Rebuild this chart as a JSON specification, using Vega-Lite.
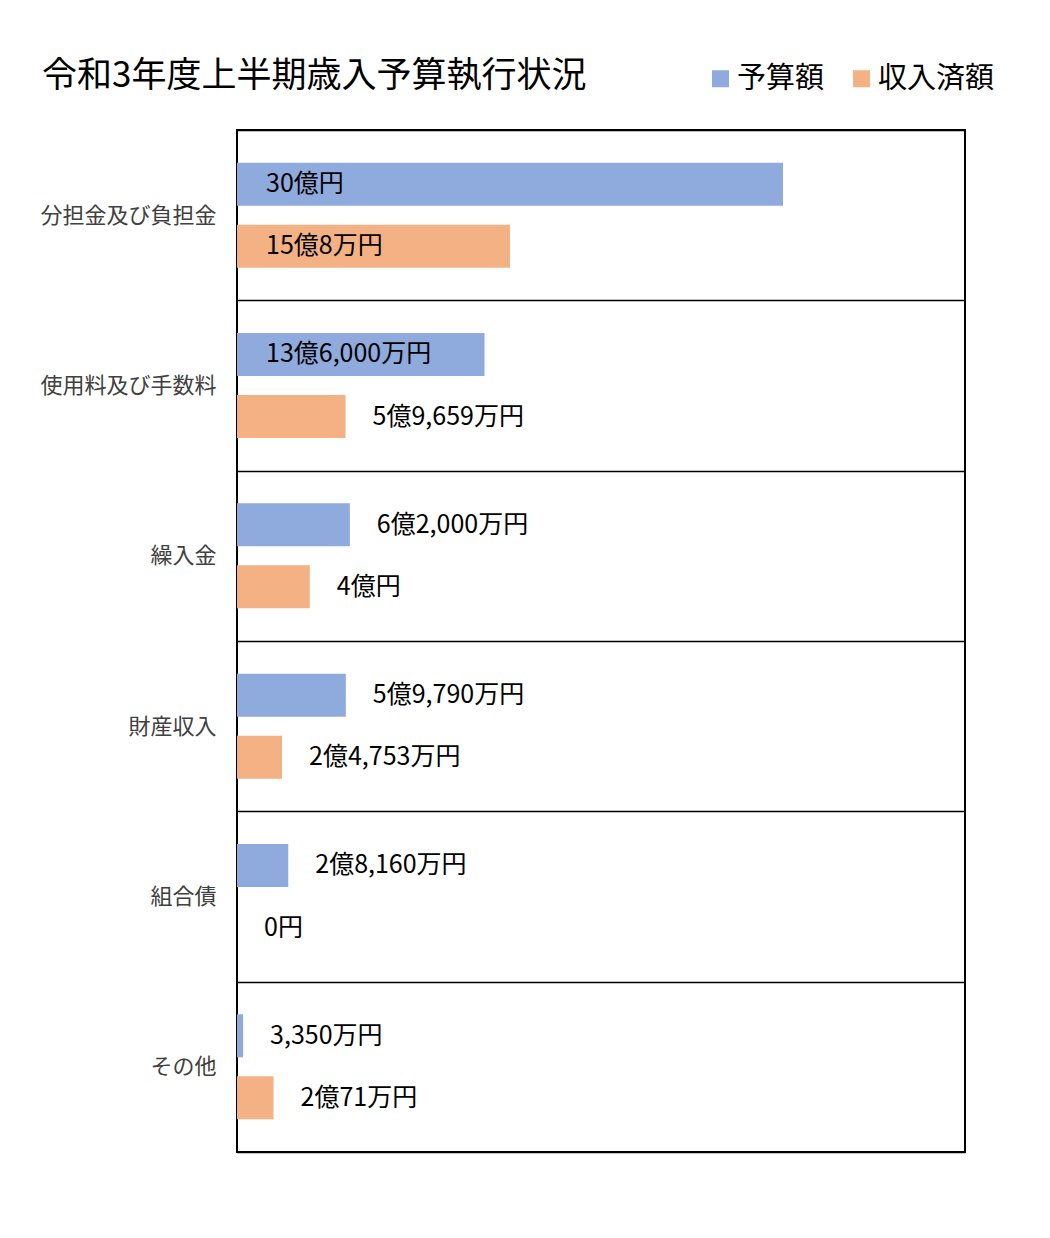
{
  "$schema": "https://vega.github.io/schema/vega-lite/v6.json",
  "autosize": {"type": "none"},
  "width": 728,
  "height": 1022,
  "padding": {"left": 237, "top": 130, "right": 85, "bottom": 86},
  "background": "white",
  "title": {
    "text": "令和3年度上半期歳入予算執行状況",
    "anchor": "start",
    "frame": "group",
    "dx": -195,
    "offset": -65,
    "baseline": "bottom",
    "font": "Noto Sans CJK JP",
    "fontSize": 35,
    "fontWeight": "normal",
    "color": "#000000"
  },
  "config": {
    "view": {"stroke": "#000000", "strokeWidth": 2},
    "font": "Noto Sans CJK JP"
  },
  "data": {
    "values": [
      {"category": "分担金及び負担金", "series": "予算額", "value": 3000000000, "label": "30億円"},
      {"category": "分担金及び負担金", "series": "収入済額", "value": 1500080000, "label": "15億8万円"},
      {"category": "使用料及び手数料", "series": "予算額", "value": 1360000000, "label": "13億6,000万円"},
      {"category": "使用料及び手数料", "series": "収入済額", "value": 596590000, "label": "5億9,659万円"},
      {"category": "繰入金", "series": "予算額", "value": 620000000, "label": "6億2,000万円"},
      {"category": "繰入金", "series": "収入済額", "value": 400000000, "label": "4億円"},
      {"category": "財産収入", "series": "予算額", "value": 597900000, "label": "5億9,790万円"},
      {"category": "財産収入", "series": "収入済額", "value": 247530000, "label": "2億4,753万円"},
      {"category": "組合債", "series": "予算額", "value": 281600000, "label": "2億8,160万円"},
      {"category": "組合債", "series": "収入済額", "value": 0, "label": "0円"},
      {"category": "その他", "series": "予算額", "value": 33500000, "label": "3,350万円"},
      {"category": "その他", "series": "収入済額", "value": 200710000, "label": "2億71万円"}
    ]
  },
  "encoding": {
    "y": {
      "field": "category",
      "type": "nominal",
      "sort": ["分担金及び負担金", "使用料及び手数料", "繰入金", "財産収入", "組合債", "その他"],
      "scale": {"paddingInner": 0, "paddingOuter": 0},
      "axis": {
        "title": null,
        "ticks": false,
        "domain": false,
        "grid": true,
        "gridColor": "#000000",
        "gridWidth": 1.5,
        "gridOpacity": 1,
        "tickBand": "extent",
        "labelFontSize": 22,
        "labelColor": "#404040",
        "labelFont": "Noto Sans CJK JP",
        "labelPadding": 21
      }
    },
    "yOffset": {
      "field": "series",
      "type": "nominal",
      "scale": {"domain": ["予算額", "収入済額"], "paddingInner": 0.306, "paddingOuter": 0.526}
    }
  },
  "layer": [
    {
      "mark": {"type": "bar"},
      "encoding": {
        "x": {"field": "value", "type": "quantitative", "scale": {"domain": [0, 4000000000], "nice": false}, "axis": null},
        "color": {
          "field": "series",
          "type": "nominal",
          "scale": {"domain": ["予算額", "収入済額"], "range": ["#8FAADC", "#F4B183"]},
          "legend": {
            "title": null,
            "orient": "none",
            "legendX": 469,
            "legendY": -66,
            "direction": "horizontal",
            "symbolType": "square",
            "symbolSize": 289,
            "symbolStrokeWidth": 0,
            "labelFontSize": 29,
            "labelFont": "Noto Sans CJK JP",
            "labelColor": "#000000",
            "labelOffset": 2,
            "columnPadding": 22
          }
        }
      }
    },
    {
      "transform": [{"filter": "datum.value >= 1000000000"}],
      "mark": {"type": "text", "align": "left", "baseline": "middle", "dx": 29, "fontSize": 25, "font": "Noto Sans CJK JP", "color": "#000000"},
      "encoding": {
        "x": {"datum": 0, "type": "quantitative"},
        "text": {"field": "label"}
      }
    },
    {
      "transform": [{"filter": "datum.value < 1000000000"}],
      "mark": {"type": "text", "align": "left", "baseline": "middle", "dx": 27, "fontSize": 25, "font": "Noto Sans CJK JP", "color": "#000000"},
      "encoding": {
        "x": {"field": "value", "type": "quantitative"},
        "text": {"field": "label"}
      }
    }
  ]
}
